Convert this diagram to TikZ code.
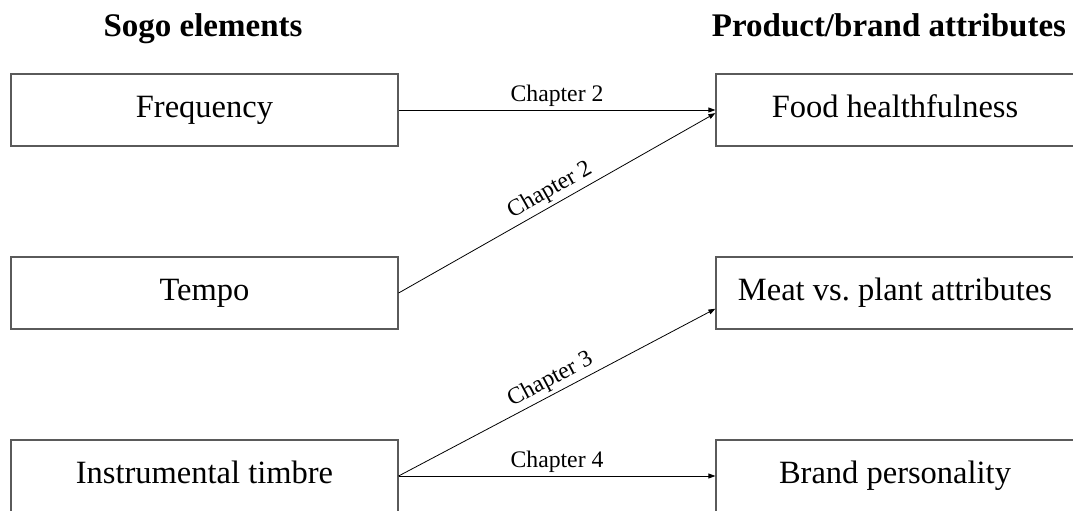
\documentclass[tikz,border=0pt]{standalone}
\usepackage{fontspec}
\setmainfont{Liberation Serif}
\usetikzlibrary{arrows.meta, positioning}
\definecolor{boxgray}{RGB}{90,90,90}
\tikzset{
  lbox/.style  = {draw=boxgray, line width=1.2pt, minimum width=387pt,
                  minimum height=72pt, inner sep=0pt, text height=22pt,
                  text depth=7.4pt, font=\fontsize{32.5}{39}\selectfont},
  rbox/.style  = {lbox, minimum width=358pt},
  arrow/.style = {-{Triangle[length=7pt, width=5pt]}, line width=0.8pt},
  chap/.style  = {font=\fontsize{23.7}{28}\selectfont, inner sep=3pt},
  head/.style  = {anchor=base, font=\fontsize{33}{40}\selectfont\bfseries},
}

\begin{document}
\begin{tikzpicture}[x=1pt, y=-1pt]
  \useasboundingbox (0,0) rectangle (1073,511);
  % column headings
  \node[head] (hleft)  at (203,37)   {Sogo elements};
  \node[head] (hright) at (889,37)   {Product/brand attributes};
  % sogo elements
  \node[lbox] (freq)  at (204.5,110) {Frequency};
  \node[lbox] (tempo) at (204.5,293) {Tempo};
  \node[lbox] (timb)  at (204.5,476) {Instrumental timbre};
  % attributes
  \node[rbox] (food)  at (895,110) {Food healthfulness};
  \node[rbox] (meat)  at (895,293) {Meat vs.\ plant attributes};
  \node[rbox] (brand) at (895,476) {Brand personality};
  % chapters
  \draw[arrow] (freq.east)  -- node[chap, above] {Chapter 2} (food.west);
  \draw[arrow] (tempo.east) -- node[chap, above, sloped] {Chapter 2} (food.181);
  \draw[arrow] (timb.east)  -- node[chap, above, sloped] {Chapter 3} (meat.185);
  \draw[arrow] (timb.east)  -- node[chap, above] {Chapter 4} (brand.west);
\end{tikzpicture}
\end{document}
